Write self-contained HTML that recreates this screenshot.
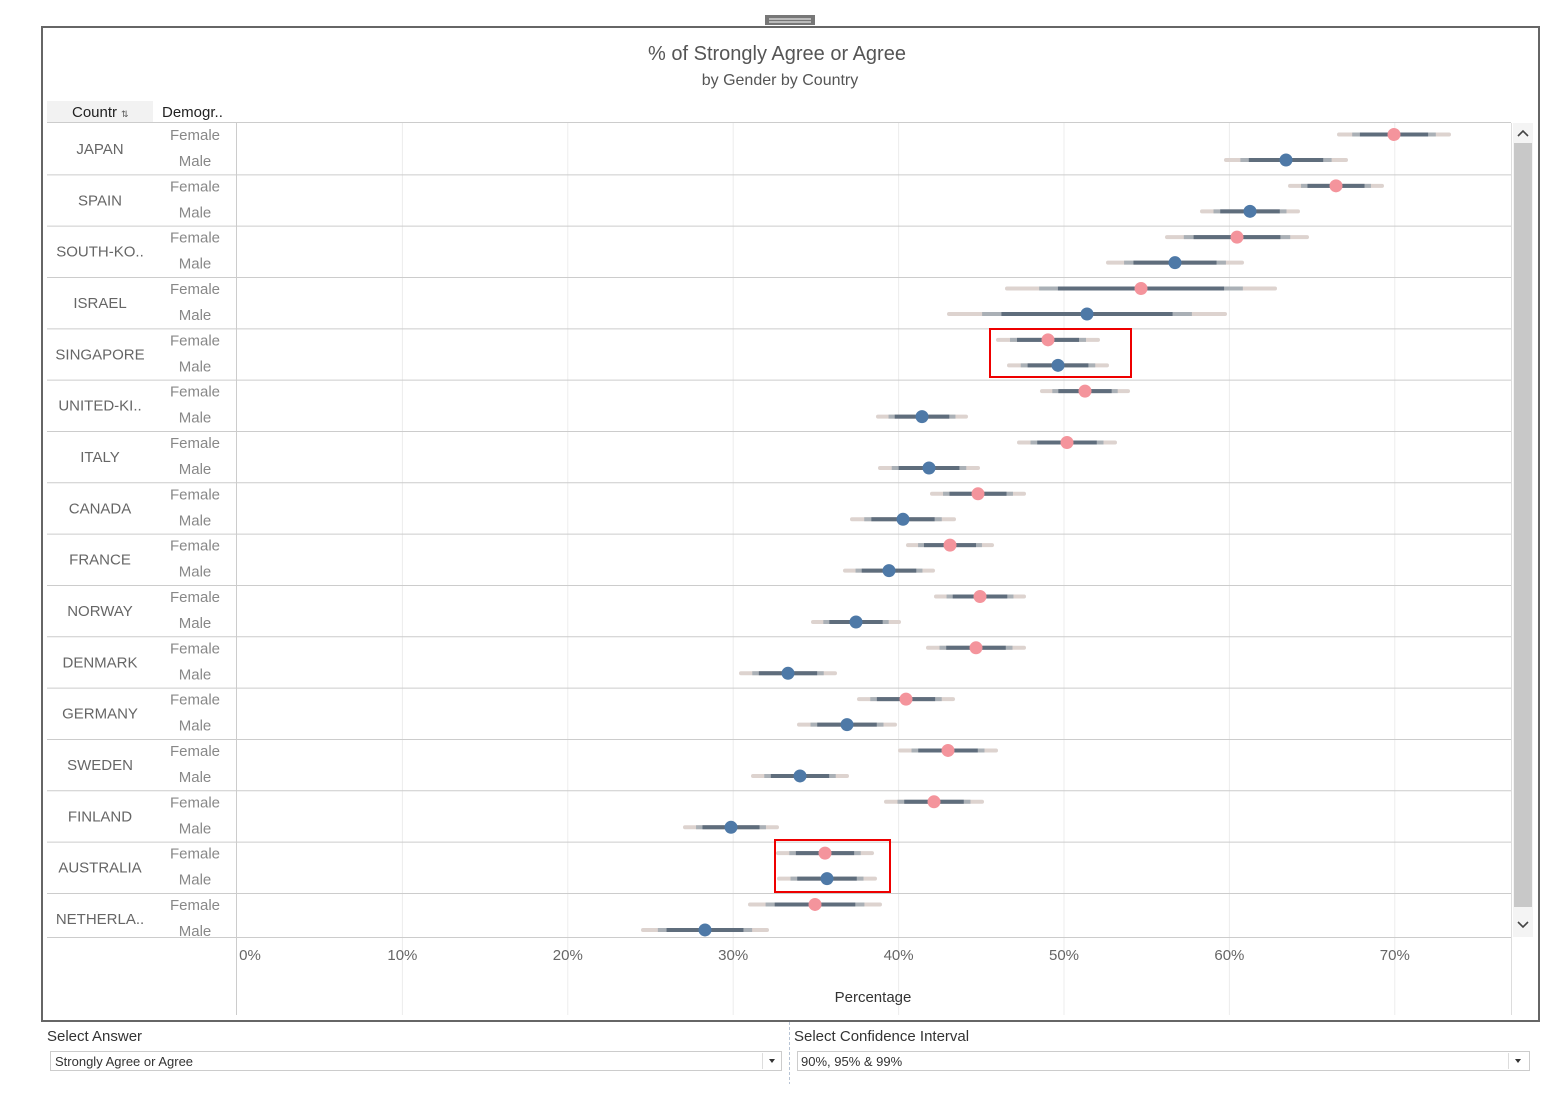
<!DOCTYPE html>
<html><head><meta charset="utf-8"><style>
html,body{margin:0;padding:0;background:#fff;}
svg{display:block;font-family:"Liberation Sans",sans-serif;}
</style></head><body>
<svg width="1563" height="1104" viewBox="0 0 1563 1104" xmlns="http://www.w3.org/2000/svg">
<rect x="765" y="15" width="50" height="10" fill="#777"/>
<line x1="769" y1="19" x2="811" y2="19" stroke="#fff" stroke-width="1"/>
<line x1="769" y1="22" x2="811" y2="22" stroke="#fff" stroke-width="1"/>
<rect x="42" y="27" width="1497" height="994" fill="#fff" stroke="#666" stroke-width="2"/>
<text x="777" y="60" font-size="20" fill="#555" text-anchor="middle">% of Strongly Agree or Agree</text>
<text x="780" y="85" font-size="16" fill="#555" text-anchor="middle">by Gender by Country</text>
<rect x="47" y="101" width="106" height="21" fill="#f2f2f2"/>
<text x="72" y="117" font-size="15" fill="#222">Countr</text>
<text x="121" y="117" font-size="9" fill="#555">⇅</text>
<text x="162" y="117" font-size="15" fill="#222">Demogr..</text>
<g id="grid" stroke="#ececec" stroke-width="1"></g>
<line x1="47" y1="122.5" x2="1511" y2="122.5" stroke="#ccc"/>
<line x1="236.5" y1="123" x2="236.5" y2="1015" stroke="#ccc"/>
<line x1="1511.5" y1="123" x2="1511.5" y2="1015" stroke="#ddd"/>
<g id="rows"></g>
<line x1="47" y1="937.5" x2="1511" y2="937.5" stroke="#ccc"/>
<g font-size="15" fill="#666" text-anchor="middle" id="ticks"></g>
<text x="873" y="1002" font-size="15" fill="#333" text-anchor="middle">Percentage</text>
<rect x="1513" y="123" width="20" height="814" fill="#f4f4f4"/>
<rect x="1514" y="143" width="18" height="764" fill="#c8c8c8"/>
<path d="M1518 136 L1523 131 L1528 136" fill="none" stroke="#444" stroke-width="1.6"/>
<path d="M1518 922 L1523 927 L1528 922" fill="none" stroke="#444" stroke-width="1.6"/>
<rect x="990" y="329" width="141" height="48" fill="none" stroke="#e00" stroke-width="2"/>
<rect x="775" y="840" width="115" height="52" fill="none" stroke="#e00" stroke-width="2"/>
<text x="47" y="1041" font-size="15" fill="#333">Select Answer</text>
<rect x="50.5" y="1051.5" width="731" height="19" fill="#fff" stroke="#ccc"/>
<text x="55" y="1066" font-size="13" fill="#333">Strongly Agree or Agree</text>
<line x1="762.5" y1="1053" x2="762.5" y2="1069" stroke="#ddd"/>
<path d="M769 1059 L775 1059 L772 1063 Z" fill="#333"/>
<line x1="789.5" y1="1022" x2="789.5" y2="1084" stroke="#b8c4d4" stroke-dasharray="3,2"/>
<text x="794" y="1041" font-size="15" fill="#333">Select Confidence Interval</text>
<rect x="797.5" y="1051.5" width="732" height="19" fill="#fff" stroke="#ccc"/>
<text x="801" y="1066" font-size="13" fill="#333">90%, 95% &amp; 99%</text>
<line x1="1508.5" y1="1053" x2="1508.5" y2="1069" stroke="#ddd"/>
<path d="M1515 1059 L1521 1059 L1518 1063 Z" fill="#333"/>
</svg>
<script>
const NS="http://www.w3.org/2000/svg";
function el(p,t,a,txt){const e=document.createElementNS(NS,t);for(const k in a)e.setAttribute(k,a[k]);if(txt!==undefined)e.textContent=txt;p.appendChild(e);return e;}
const g=document.getElementById('grid'),rows=document.getElementById('rows'),ticks=document.getElementById('ticks');
for(let i=0;i<=7;i++){const x=237+i*165.4;if(i>0)el(g,'line',{x1:x,y1:123,x2:x,y2:1015});
el(ticks,'text',{x:i==0?250:x,y:960},i*10+'%');}
const D=[["JAPAN",1394,55,1286,60],["SPAIN",1336,46,1250,48],["SOUTH-KO..",1237,70,1175,67],["ISRAEL",1141,134,1087,138],["SINGAPORE",1048,50,1058,49],["UNITED-KI..",1085,43,922,44],["ITALY",1067,48,929,49],["CANADA",978,46,903,51],["FRANCE",950,42,889,44],["NORWAY",980,44,856,43],["DENMARK",976,48,788,47],["GERMANY",906,47,847,48],["SWEDEN",948,48,800,47],["FINLAND",934,48,731,46],["AUSTRALIA",825,47,827,48],["NETHERLA..",815,65,705,62]];
const H=51.33;
D.forEach((d,i)=>{const top=123+i*H;
 if(i>0)el(rows,'line',{x1:47,y1:top+0.5,x2:1511,y2:top+0.5,stroke:'#ccc'});
 el(rows,'text',{x:100,y:top+31,'font-size':15,fill:'#666','text-anchor':'middle'},d[0]);
 el(rows,'text',{x:195,y:top+17,'font-size':15,fill:'#888','text-anchor':'middle'},'Female');
 el(rows,'text',{x:195,y:top+43,'font-size':15,fill:'#888','text-anchor':'middle'},'Male');
 [[d[1],d[2],top+11.5,'#f4949c'],[d[3],d[4],top+37,'#4e79a7']].forEach(s=>{
  const [c,l,y,col]=s;
  el(rows,'line',{x1:c-l,y1:y,x2:c+l,y2:y,stroke:'#ddd3cf','stroke-width':4,'stroke-linecap':'round'});
  el(rows,'line',{x1:c-l*0.76,y1:y,x2:c+l*0.76,y2:y,stroke:'#aab0b6','stroke-width':4});
  el(rows,'line',{x1:c-l*0.62,y1:y,x2:c+l*0.62,y2:y,stroke:'#5f6d7c','stroke-width':4});
  el(rows,'circle',{cx:c,cy:y,r:6.5,fill:col});
 });
});
</script>
</body></html>
